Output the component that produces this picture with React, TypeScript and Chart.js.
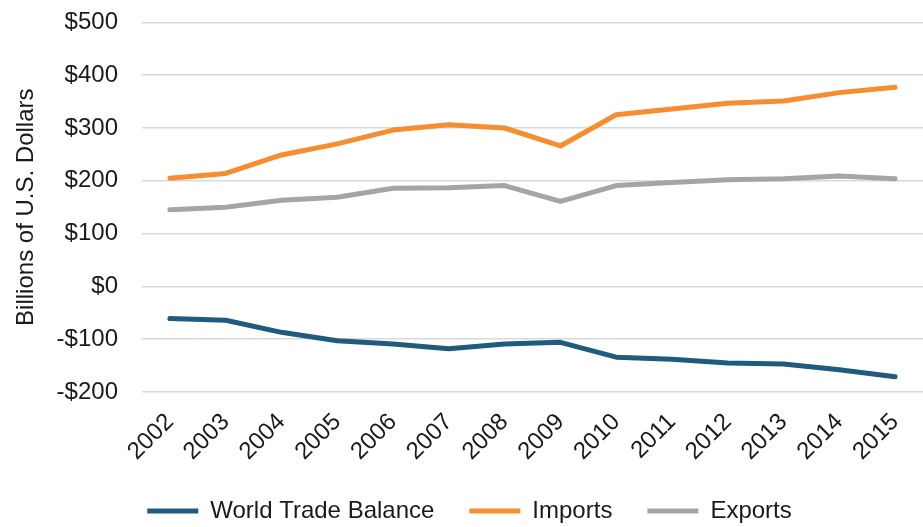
import React, { useEffect, useRef } from "react";
import { Chart, registerables } from "chart.js";

Chart.register(...registerables);

const years = ["2002","2003","2004","2005","2006","2007","2008","2009","2010","2011","2012","2013","2014","2015"];
const balance = [-61,-64,-87,-103,-109,-118,-109,-106,-134,-138,-145,-147,-158,-171];
const imports = [205,214,249,270,296,306,300,266,325,336,347,351,367,377];
const exports = [145,150,163,169,186,187,191,161,191,197,202,204,209,204];

const FONT = "'Liberation Sans', Arial, sans-serif";
const SHIFT = 16;

export default function App() {
  const ref = useRef<HTMLCanvasElement>(null);
  useEffect(() => {
    document.body.style.margin = "0";
    const ds = (label: string, data: number[], color: string) => ({
      label, data, borderColor: color, backgroundColor: color, borderWidth: 5,
      borderCapStyle: "round" as const, borderJoinStyle: "round" as const,
      pointRadius: 0, tension: 0, fill: false,
    });
    const chart = new Chart(ref.current!, {
      type: "line",
      data: {
        labels: years,
        datasets: [
          ds("World Trade Balance", balance, "#1E5B7C"),
          ds("Imports", imports, "#F68D2E"),
          ds("Exports", exports, "#A5A5A5"),
        ],
      },
      options: {
        animation: false,
        responsive: false,
        layout: { padding: { top: 0, right: -4, left: 12, bottom: -6 } },
        plugins: {
          tooltip: { enabled: false },
          legend: {
            position: "bottom",
            labels: {
              usePointStyle: true,
              pointStyle: "line",
              pointStyleWidth: 51,
              color: "#1a1a1a",
              font: { family: FONT, size: 24 },
              padding: 35,
            },
          },
        },
        scales: {
          x: {
            offset: true,
            grid: { display: false, offset: true },
            border: { display: false },
            afterFit: (s: any) => { s.height = 72; s.paddingLeft = 0; s.paddingRight = 0; },
            ticks: {
              color: "#1a1a1a",
              font: { family: FONT, size: 24 },
              minRotation: 45, maxRotation: 45, autoSkip: false, padding: 8,
            },
          },
          y: {
            min: -200, max: 500,
            border: { display: false },
            afterFit: (s: any) => { s.width = 130; },
            grid: { color: "#D9D9D9", lineWidth: 1.5, drawTicks: false },
            title: { display: true, text: "Billions of U.S. Dollars", color: "#1a1a1a", font: { family: FONT, size: 24 }, padding: { top: 0, bottom: 18 } },
            ticks: {
              stepSize: 100,
              color: "#1a1a1a",
              font: { family: FONT, size: 24 },
              padding: 24,
              callback: (v: any) => (v < 0 ? "-$" + Math.abs(v) : "$" + v),
            },
          },
        },
      },
    });
    return () => chart.destroy();
  }, []);
  return (
    <div style={{ position: "absolute", left: 0, top: 0, width: 923, height: 527, overflow: "hidden" }}>
      <canvas ref={ref} width={923} height={527 + SHIFT} style={{ position: "absolute", left: 0, top: -SHIFT }} />
    </div>
  );
}
